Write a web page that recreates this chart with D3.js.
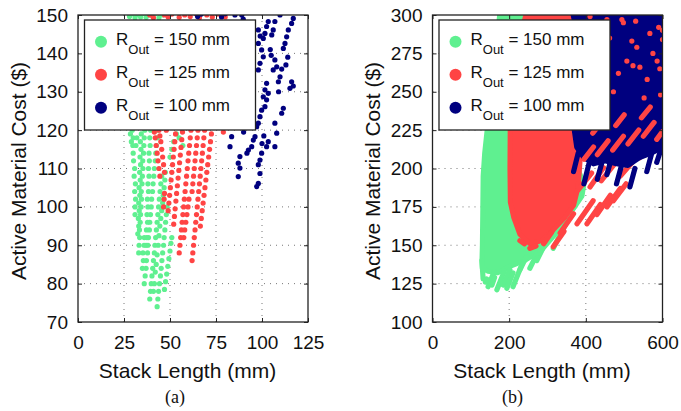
<!DOCTYPE html>
<html><head><meta charset="utf-8">
<script src="https://cdn.jsdelivr.net/npm/d3@7"></script>
<style>body{margin:0;background:#fff}svg{display:block}</style>
</head><body>
<svg id="chart" width="681" height="411"></svg>
<script>
// ---------- tick labels ----------
const aXTicks=[0,25,50,75,100,125];
const aYTicks=[70,80,90,100,110,120,130,140,150];
const bXTicks=[0,200,400,600];
const bYTicks=[100,125,150,175,200,225,250,275,300];
const seriesLabels=["150","125","100"];
const seriesColors=["#5ff090","#ff4444","#00007f"];

// ---------- panel (a) points [stack length mm, cost $] ----------
const aGreen=[
[31,98],[31,100],[31.3,102],[30.8,104],[31.2,106],[30.5,108],[30.8,110],[30.2,112],[30,114],[29.8,116],[30,118],[29.5,120],
[33,88],[33.2,90],[33.5,92],[33.4,94],[33.8,96],[34,98],[34.3,100],[34.5,102],[34.4,104],[34.8,106],[35,108],[35.3,110],[35.2,112],[35.6,114],[35.8,116],[36,118],[36.3,120],
[36,80],[36.5,82],[37,84],[37.2,86],[37.8,88],[38,90],[38.3,92],[38.8,94],[39,96],[39.4,98],[39.8,100],[40,102],[40.5,104],[40.8,106],[41.2,108],[41.5,110],[42,112],[42.3,114],[42.6,116],[43,118],[43.4,120],
[39,76],[39.4,78],[39.8,80],[40.2,82],[40.6,84],[41,86],[41.5,88],[41.8,90],[42.2,92],[42.6,94],[43,96],[43.4,98],[43.8,100],[44.2,102],[44.6,104],[45,106],[45.5,108],
[43,74],[43.4,76],[43.8,78],[44.3,80],[44.8,82],[45.2,84],[45.6,86],[46,88],[46.5,90],[46.8,92],[47.2,94],[47.6,96],[48,98],[48.4,100],
[47,78.5],[47.6,80.5],[48.2,82.5],[48.8,84.5],[49.4,86.5],[50,88.5],[50.5,90.5],[51,92],
[32.5,93],[33,95],[32.8,97],[33.3,99],[33,101],[33.6,103],[33.2,105],[33.8,107],[33.5,109],[34,111],[33.7,113],[34.2,115],[33.9,117],[34.4,119],
[37,90],[37.4,92],[37.2,94],[37.8,96],[37.5,98],[38,100],[37.7,102],[38.3,104],[38,106],[38.6,108],[38.3,110],[38.8,112],[38.6,114],[39.2,116],[39,118],[39.5,120],
[35,84],[35.5,86],[35.3,88],[35.9,90],[36,92],
[45,97],[45.5,99],[46,101],[46.3,103],[46.8,105],[47.2,107],[47.5,109],
[41,78],[41.5,80],[42,83],[42.5,85],[43,87.5],[43.6,90],[44,92.5],[44.5,95],
[50,113],[51,115],[52,117],[53.5,119],[55,118],[57,116],[31.5,116],[32,118],[28.5,119],[29,117],
[28,149.6],[29.5,150.3],[31,149.3],[32.5,150.1],[34,149.5],[35.5,150.4],[37,149.4],[38.5,150],[40.5,149.7],[42,150.4],[44,149.3],[46,150]
];
const aRed=[
[41.5,119.5],[42,118],[42.5,116],[43,114],[43.5,112],[44,110],[44.5,108],
[44,120],[44.5,118.5],[45,117],[45.5,115],[46,113],[46.5,111],[47,109],
[46.5,100],[46.8,102],[47,103.5],
[49,99],[49.4,101],[49.8,103],[50.2,105],[50.6,107],[51,109],[51.4,111],[51.8,113],[52.2,115],[52.6,117],[53,119],
[52,95.5],[52.4,97.5],[52.8,99.5],[53.2,101.5],[53.6,103.5],[54,105.5],[54.4,107.5],[54.8,109.5],[55.2,111.5],[55.6,113.5],[56,115.5],[56.4,117.5],[56.8,119.5],
[55,88],[55.4,90],[55.8,92],[56.2,94],[56.6,96],[57,98],[57.4,100],[57.8,102],[58.2,104],[58.6,106],[59,108],[59.4,110],[59.8,112],[60.2,114],[60.6,116],[61,118],[61.4,120],
[57.5,92],[58,94],[58.6,96],[59.2,98],[59.8,100],[60.3,102],
[62,86],[62.4,88],[62.8,90],[63.2,92],[63.6,94],[64,96],[64.4,98],[64.8,100],[65.2,102],[65.6,104],[66,106],[66.4,108],[66.8,110],[67.2,112],[67.6,114],[68,116],[68.4,118],[68.8,120],
[66.5,95],[67,97],[67.5,99],[68,101],[68.5,103],[69,105],[69.5,107],[70,109],[70.5,111],[71,113],[71.5,115],[72,117],[72.5,119],
[62,104],[62.4,106],[62.8,108],[63.2,110],[63.6,112],[64,114],[64.4,116],[64.8,118],[65.2,120],
[79,119.5],[48,120],[50.5,121],
[39,150],[41,149.3],[47,150],[49,149.5],[51,150.2],[55,149.4],[58,150],[61,149.6],[64,150.3],[66,149.3],[70,150],[73,149.5],[76,150.2],[80,149.5]
];
const aBlue=[
[85.3,150],[89,150],[89.8,148.9],[65,149.6],[67,150.2],[78,149.5],[80,150.3],[109.8,150],
[103.4,148.3],[102.5,147],[101.6,145.2],[100.7,143.9],
[107,148.3],[106.1,146.1],[105.3,144.8],
[117,149.1],[116.1,147.8],[114.3,146.1],[113.4,144.3],[112.5,142.6],[111.6,141.3],
[98,142.6],[99.8,140.9],[100.7,139.1],[98.9,137.4],[98,135.7],
[107,138.3],[108,136.5],[106.1,135.7],[110.7,135.9],[109.8,133.9],[108.9,132.6],
[116.1,132.6],[117,131.5],[115.2,130.9],
[102.5,132.2],[101.6,130.5],[100.7,128.7],
[103.4,129.6],[102.5,127.9],[101.6,126.1],[99.8,125.2],[98.9,123.5],[98,121.8],[97.1,120.9],
[111.6,125.7],[110.7,124.4],[107,121.8],[108,119.2],
[96.2,118.3],[95.3,117.4],[94.4,115.7],
[83.5,118.3],[82.6,115.7],[88,113.1],[87.1,111.4],[88,110.1],[87.1,107.9],
[92.6,114.8],[91.8,114],
[99.8,114],[98.9,112.2],[98,111],[98.9,108.7],[98,106.1],[97.1,105.3],
[102.5,115.7],[103.4,117],[107,115.7],
[98,146.1],[99,144.5],[104.5,141],[105,139.5],[109,130],[113,137],[114,139],[100,116.5],[101,118.5],[93,121],[90,119.5]
];

// ---------- panel (b): dense regions (outline of the solid point clouds) ----------
const bGreenArea=[[176,302],[142,224],[136,210],[132,195],[131,170],[130,150],[129,140],[130,135],[145,133],[170,132],[200,136],[240,140],[285,147],[330,160],[390,182],[395,190],[330,230],[260,302]];
const bRedArea=[[246,302],[210,270],[203,240],[202,200],[203,178],[212,168],[228,157],[254,151],[285,153],[315,160],[345,168],[368,176],[380,188],[385,205],[378,222],[375,240],[385,262],[400,280],[420,302]];
const bBlueArea=[[365,302],[380,285],[378,262],[372,245],[368,228],[376,214],[395,207],[420,203],[450,205],[480,203],[510,202],[540,207],[570,210],[602,214],[602,302]];

// ---------- panel (b): streaks of points at the cloud fringes [x0,y0,x1,y1] ----------
const bGreenStreaks=[
[145,123,161,133],[168,121,188,133.5],[185,124,202,134],[194,122,210,132],[210,123,230,135.5],
[228,134,248,144],[254,135,274,145],[272,140,287,147.5],[280,145,300,155],[315,148,330,155.5],
[340,160,352,166],[370,175,388,184],[129,140,132,128],[138,126,141,128],[155,124,162,129]
];
const bRedStreaks=[
[290,151,311,158.5],[315,149,343,159],[333,158,368,170.5],[377,164,419,179],[403,164,438,176.5],
[429,170,464,182.5],[455,175,490,187],[472,179,505,190],[380,186,415,197],[411,188,446,200.5],
[440,192,475,203],[490,195,528,206],[500,203,535,214],[541,207,575,218],
[228,153,240,151],[254,148,270,149.5]
];
const bBlueStreaks=[
[368,198,380,210],[395,190,408,203],[430,193,442,204],[480,190,492,201],[515,188,528,200],
[559,198,572,210],[585,204,598,214],[455,196,466,206]
];
const bRedOverStreaks=[
[395,206,420,214],[430,209,458,218],[470,212,498,221],[510,216,538,225],[550,221,578,230],
[418,223,440,230],[478,228,500,235],[545,233,568,240],[585,219,600,224]
];
const bRedOver=[
[472,250],[507,270],[523,267],[533,279],[541,266],[567,288],[498,295],[494,297],
[411,299],[455,297],[600,290],[600,284],[586,270],[593,265],[430,280],[462,285],
[520,283],[560,258],[575,275],[485,262],[530,296],[590,292],[595,248],[552,246]
];

const svg=d3.select("#chart");
const SANS="'Liberation Sans', Arial, Helvetica, sans-serif";
const defs=svg.append("defs");

function panel(o){
  const x=d3.scaleLinear().domain(o.xDomain).range([o.left,o.right]);
  const y=d3.scaleLinear().domain(o.yDomain).range([o.bottom,o.top]);
  const g=svg.append("g");
  defs.append("clipPath").attr("id","clip"+o.id).append("rect")
    .attr("x",o.left).attr("y",o.top).attr("width",o.right-o.left).attr("height",o.bottom-o.top);
  // grid
  const grid=g.append("g").attr("stroke","#777").attr("stroke-width",1).attr("stroke-dasharray","1,5");
  o.xTicks.slice(1,-1).forEach(t=>grid.append("line").attr("x1",x(t)).attr("x2",x(t)).attr("y1",o.top).attr("y2",o.bottom));
  o.yTicks.slice(1,-1).forEach(t=>grid.append("line").attr("y1",y(t)).attr("y2",y(t)).attr("x1",o.left).attr("x2",o.right));
  const plot=g.append("g").attr("clip-path","url(#clip"+o.id+")");
  const closed=d3.line().x(d=>x(d[0])).y(d=>y(d[1])).curve(d3.curveLinearClosed);
  o.layers.forEach(L=>{
    if(L.area){
      plot.append("path").datum(L.area).attr("d",closed).attr("fill",L.color)
        .attr("stroke",L.color).attr("stroke-width",5).attr("stroke-linejoin","round");
    }
    if(L.streaks){
      plot.append("g").selectAll("line").data(L.streaks).join("line")
        .attr("x1",d=>x(d[0])).attr("y1",d=>y(d[1])).attr("x2",d=>x(d[2])).attr("y2",d=>y(d[3]))
        .attr("stroke",L.color).attr("stroke-width",5.2).attr("stroke-linecap","round");
    }
    if(L.points){
      plot.append("g").selectAll("circle").data(L.points).join("circle")
        .attr("cx",d=>x(d[0])).attr("cy",d=>y(d[1])).attr("r",2.6).attr("fill",L.color);
    }
  });
  // axes
  const styleAxis=s=>{s.select(".domain").remove();s.selectAll("line").attr("stroke","#222");
    s.selectAll("text").attr("font-family",SANS).attr("font-size",19).attr("fill","#111");};
  g.append("g").attr("transform",`translate(0,${o.bottom})`)
    .call(d3.axisBottom(x).tickValues(o.xTicks).tickSize(-4).tickPadding(13.5).tickFormat(d3.format("d"))).call(styleAxis);
  g.append("g").attr("transform",`translate(0,${o.top})`)
    .call(d3.axisTop(x).tickValues(o.xTicks).tickSize(-4).tickFormat("")).call(styleAxis);
  g.append("g").attr("transform",`translate(${o.left},0)`)
    .call(d3.axisLeft(y).tickValues(o.yTicks).tickSize(-4).tickPadding(10).tickFormat(d3.format("d"))).call(styleAxis);
  g.append("g").attr("transform",`translate(${o.right},0)`)
    .call(d3.axisRight(y).tickValues(o.yTicks).tickSize(-4).tickFormat("")).call(styleAxis);
  g.append("rect").attr("x",o.left).attr("y",o.top).attr("width",o.right-o.left).attr("height",o.bottom-o.top)
    .attr("fill","none").attr("stroke","#222").attr("stroke-width",1.3);
  // axis labels
  g.append("text").attr("x",(o.left+o.right)/2-5.5).attr("y",378).attr("text-anchor","middle")
    .attr("font-family",SANS).attr("font-size",21).attr("fill","#111").text("Stack Length (mm)");
  g.append("text").attr("transform",`translate(${o.left-52.5},171) rotate(-90)`).attr("text-anchor","middle")
    .attr("font-family",SANS).attr("font-size",21).attr("fill","#111").text("Active Material Cost ($)");
  // caption
  g.append("text").attr("x",o.caption[1]).attr("y",403).attr("text-anchor","middle")
    .attr("font-family","'Liberation Serif','Times New Roman',serif").attr("font-size",18).attr("fill","#111").text(o.caption[0]);
  // legend
  const lx=o.left+6.5, ly=20;
  const lg=g.append("g");
  lg.append("rect").attr("x",lx).attr("y",ly).attr("width",171).attr("height",110)
    .attr("fill","#fff").attr("stroke","#222").attr("stroke-width",1.3);
  seriesLabels.forEach((s,i)=>{
    const by=ly+25+i*33;
    lg.append("circle").attr("cx",lx+16.5).attr("cy",by-3.3).attr("r",6).attr("fill",seriesColors[i]);
    const t=lg.append("text").attr("x",lx+31.5).attr("y",by).attr("font-family",SANS).attr("font-size",17).attr("fill","#111");
    t.append("tspan").text("R");
    t.append("tspan").attr("dy",9).attr("font-size",13).text("Out");
    t.append("tspan").attr("dy",-9).text(" = "+s+" mm");
  });
}

panel({id:"a",xDomain:[0,125],yDomain:[70,150],left:78,right:308,top:15,bottom:322,
  xTicks:aXTicks,yTicks:aYTicks,caption:["(a)",175],
  layers:[{points:aGreen,color:seriesColors[0]},{points:aRed,color:seriesColors[1]},{points:aBlue,color:seriesColors[2]}]});
panel({id:"b",xDomain:[0,600],yDomain:[100,300],left:432.5,right:662.5,top:15,bottom:322,
  xTicks:bXTicks,yTicks:bYTicks,caption:["(b)",512.5],
  layers:[{area:bGreenArea,streaks:bGreenStreaks,color:seriesColors[0]},
          {area:bRedArea,streaks:bRedStreaks,color:seriesColors[1]},
          {area:bBlueArea,streaks:bBlueStreaks,color:seriesColors[2]},
          {streaks:bRedOverStreaks,points:bRedOver,color:seriesColors[1]}]});
</script>
</body></html>
